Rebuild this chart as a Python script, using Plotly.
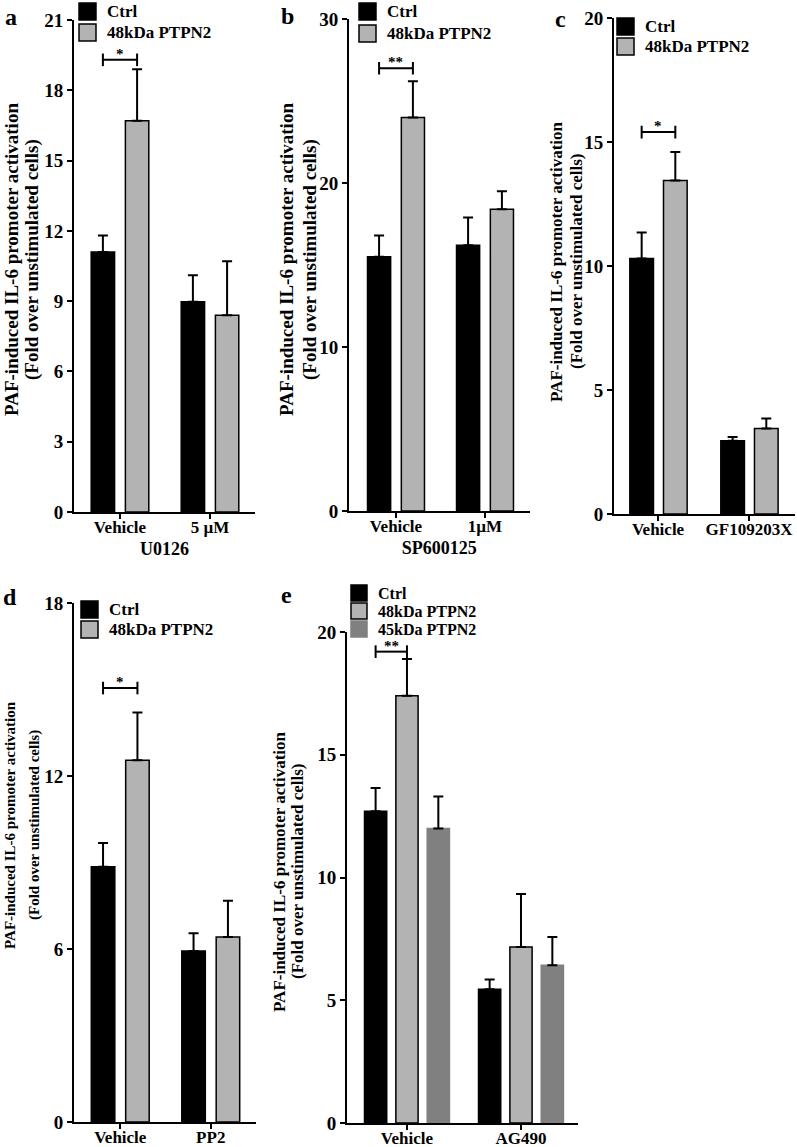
import plotly.graph_objects as go

W, H = 797, 1147
FONT = "Liberation Serif, Times New Roman, serif"

# ---------------- data ----------------
series_names = ["Ctrl", "48kDa PTPN2", "45kDa PTPN2"]

cats_a = ["Vehicle", "5 µM"]
ctrl_a, ctrl_a_err = [11.1, 8.97], [0.7, 1.13]
p48_a, p48_a_err = [16.7, 8.4], [2.2, 2.3]
sig_a = 19.3
title_a = "U0126"

cats_b = ["Vehicle", "1µM"]
ctrl_b, ctrl_b_err = [15.5, 16.2], [1.3, 1.7]
p48_b, p48_b_err = [24.0, 18.4], [2.2, 1.1]
sig_b = 27.0
title_b = "SP600125"

cats_c = ["Vehicle", "GF109203X"]
ctrl_c, ctrl_c_err = [10.3, 2.95], [1.05, 0.15]
p48_c, p48_c_err = [13.45, 3.45], [1.15, 0.4]
sig_c = 15.4

cats_d = ["Vehicle", "PP2"]
ctrl_d, ctrl_d_err = [8.85, 5.93], [0.83, 0.62]
p48_d, p48_d_err = [12.55, 6.42], [1.65, 1.25]
sig_d = 15.05

cats_e = ["Vehicle", "AG490"]
ctrl_e, ctrl_e_err = [12.7, 5.45], [0.95, 0.4]
p48_e, p48_e_err = [17.4, 7.17], [1.5, 2.16]
p45_e, p45_e_err = [12.0, 6.43], [1.3, 1.15]
sig_e = 19.2

ytitle1 = "PAF-induced IL-6 promoter activation"
ytitle2 = "(Fold over unstimulated cells)"

# ---------------- styles ----------------
COLORS = ["#000000", "#b3b3b3", "#808080"]
OUTLINES = ["#000000", "#000000", "#808080"]


def px(x):
    return x / W


def py(y):
    return 1 - y / H


panels = [
    dict(letter="a", cats=cats_a, series=[(ctrl_a, ctrl_a_err), (p48_a, p48_a_err)], sig=sig_a, star="*",
         xtitle=title_a, xdom=(74, 255), ydom=(20, 512), xr=(-0.511, 1.5), yr=(0, 21), dtick=3,
         offs=[-0.19, 0.19], bw=0.26, leg=(79, 3, 21), legfont=17, letpos=(11, 17),
         yt=(-63, -42, 260, 19)),
    dict(letter="b", cats=cats_b, series=[(ctrl_b, ctrl_b_err), (p48_b, p48_b_err)], sig=sig_b, star="**",
         xtitle=title_b, xdom=(349, 529.5), ydom=(19, 511), xr=(-0.528, 1.5), yr=(0, 30), dtick=10,
         offs=[-0.19, 0.19], bw=0.26, leg=(359, 3, 22), legfont=17, letpos=(287, 16),
         yt=(-63, -39, 260, 19)),
    dict(letter="c", cats=cats_c, series=[(ctrl_c, ctrl_c_err), (p48_c, p48_c_err)], sig=sig_c, star="*",
         xtitle=None, xdom=(614, 794.5), ydom=(18, 514), xr=(-0.484, 1.5), yr=(0, 20), dtick=5,
         offs=[-0.18, 0.19], bw=0.26, leg=(617, 18, 20), legfont=17, letpos=(560, 19),
         yt=(-58, -38, 262, 17)),
    dict(letter="d", cats=cats_d, series=[(ctrl_d, ctrl_d_err), (p48_d, p48_d_err)], sig=sig_d, star="*",
         xtitle=None, xdom=(74, 256), ydom=(603, 1122), xr=(-0.511, 1.5), yr=(0, 18), dtick=6,
         offs=[-0.19, 0.19], bw=0.26, leg=(81, 601, 20), legfont=17, letpos=(10, 597),
         yt=(-64, -40, 825, 15)),
    dict(letter="e", cats=cats_e, series=[(ctrl_e, ctrl_e_err), (p48_e, p48_e_err), (p45_e, p45_e_err)],
         sig=sig_e, star="**",
         xtitle=None, xdom=(347, 578), ydom=(632, 1123), xr=(-0.526, 1.5), yr=(0, 20), dtick=5,
         offs=[-0.275, 0.0, 0.275], bw=0.195, leg=(351, 585, 18), legfont=16, letpos=(286, 595),
         yt=(-68, -50, 872, 17)),
]

fig = go.Figure()
layout = dict(template="none", width=W, height=H, margin=dict(l=0, r=0, t=0, b=0, pad=0),
              paper_bgcolor="white", plot_bgcolor="white", showlegend=False,
              barmode="overlay", font=dict(family=FONT, color="black"))
shapes, annotations = [], []

for i, p in enumerate(panels, start=1):
    xa = "x" if i == 1 else f"x{i}"
    ya = "y" if i == 1 else f"y{i}"
    xkey = "xaxis" if i == 1 else f"xaxis{i}"
    ykey = "yaxis" if i == 1 else f"yaxis{i}"
    n = len(p["cats"])
    xs = list(range(n))
    for s, (vals, errs) in enumerate(p["series"]):
        off = p["offs"][s]
        fig.add_trace(go.Bar(
            x=xs, y=vals, width=p["bw"], offset=off - p["bw"] / 2,
            name=series_names[s],
            marker=dict(color=COLORS[s], line=dict(color=OUTLINES[s], width=1.5)),
            error_y=dict(type="data", symmetric=False, array=errs, arrayminus=[0] * n,
                         color="black", thickness=2, width=5),
            xaxis=xa, yaxis=ya))
    # significance bracket between Ctrl and 48kDa at first group
    x1, x2 = xs[0] + p["offs"][0], xs[0] + p["offs"][1]
    fig.add_trace(go.Scatter(
        x=[x1, x2], y=[p["sig"], p["sig"]], mode="lines+markers",
        line=dict(color="black", width=2),
        marker=dict(symbol="line-ns-open", size=9, color="black", line=dict(width=2, color="black")),
        xaxis=xa, yaxis=ya, hoverinfo="skip"))
    annotations.append(dict(x=(x1 + x2) / 2, y=p["sig"], xref=xa, yref=ya, text=p["star"],
                            showarrow=False, yanchor="bottom", yshift=-4,
                            font=dict(family=FONT, size=15, weight="bold")))

    layout[xkey] = dict(domain=[px(p["xdom"][0]), px(p["xdom"][1])], range=list(p["xr"]),
                        anchor=ya, tickvals=xs, ticktext=p["cats"], automargin=False,
                        showline=True, linewidth=2, linecolor="black", ticks="outside",
                        ticklen=5, tickwidth=2, tickcolor="black", showgrid=False, zeroline=False,
                        ticklabelstandoff=-6,
                        tickfont=dict(family=FONT, size=17, weight="bold", color="black"),
                        fixedrange=True)
    if p["xtitle"]:
        layout[xkey]["title"] = dict(text=p["xtitle"], standoff=6,
                                     font=dict(family=FONT, size=18, weight="bold", color="black"))
    layout[ykey] = dict(domain=[py(p["ydom"][1]), py(p["ydom"][0])], range=list(p["yr"]),
                        anchor=xa, dtick=p["dtick"], tick0=0, automargin=False,
                        showline=True, linewidth=2, linecolor="black", ticks="outside",
                        ticklen=5, tickwidth=2, tickcolor="black", showgrid=False, zeroline=False,
                        tickfont=dict(family=FONT, size=19, weight="bold", color="black"),
                        fixedrange=True)

    # y-axis title lines
    o1, o2, yc, fs = p["yt"]
    for off, txt in ((o1, ytitle1), (o2, ytitle2)):
        annotations.append(dict(x=px(p["xdom"][0] + off), y=py(yc), xref="paper", yref="paper",
                                text=txt, textangle=-90, showarrow=False,
                                xanchor="center", yanchor="middle",
                                font=dict(family=FONT, size=fs, weight="bold")))
    # panel letter
    annotations.append(dict(x=px(p["letpos"][0]), y=py(p["letpos"][1]), xref="paper", yref="paper",
                            text=p["letter"], showarrow=False, xanchor="center", yanchor="middle",
                            font=dict(family=FONT, size=24, weight="bold")))
    # legend
    lx, ly, step = p["leg"]
    sq = 17 if len(p["series"]) == 2 else 16
    for s in range(len(p["series"])):
        top = ly + s * step
        shapes.append(dict(type="rect", xref="paper", yref="paper",
                           x0=px(lx), x1=px(lx + sq), y0=py(top + sq), y1=py(top),
                           fillcolor=COLORS[s], line=dict(color=OUTLINES[s], width=1.5)))
        annotations.append(dict(x=px(lx + sq + 9), y=py(top + sq / 2), xref="paper", yref="paper",
                                text=series_names[s], showarrow=False, xanchor="left", yanchor="middle",
                                font=dict(family=FONT, size=p["legfont"], weight="bold")))

layout["shapes"] = shapes
layout["annotations"] = annotations
fig.update_layout(**layout)
fig.write_html("out.html", config={"displayModeBar": False},
               post_script="document.body.style.margin='0';")
